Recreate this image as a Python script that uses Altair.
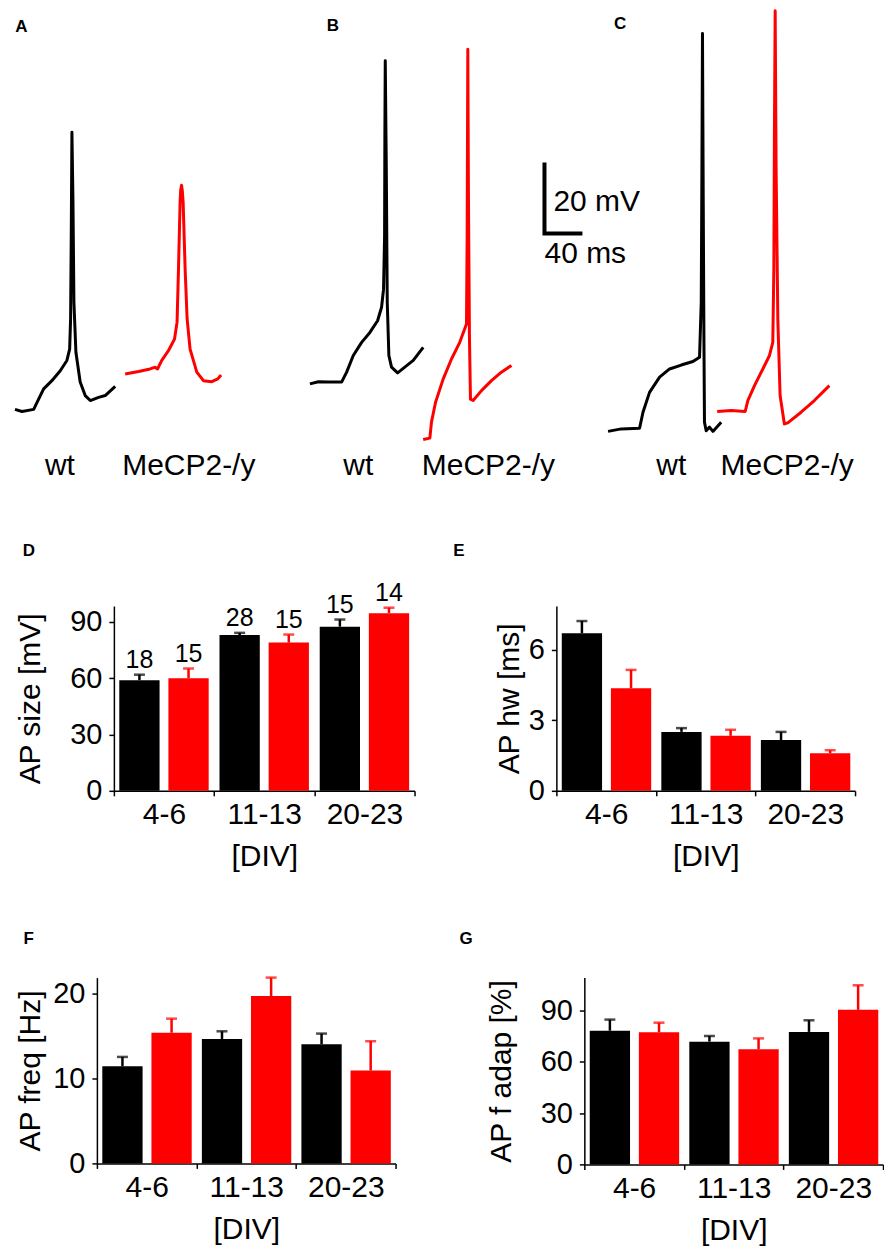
import altair as alt
import pandas as pd

FONT = "Liberation Sans"
BLACK = "#000000"
RED = "#ff0000"

# ---------------- voltage traces (time in ms, membrane potential in mV) ----------------
a_wt_t = [0, 7.4, 19.7, 24.9, 30.2, 38.9, 47.7, 54.7, 57.6, 58.6, 59.3, 60.0, 61.1, 62.1, 64.2, 68.7, 74.0, 79.3, 88.1, 95.1, 105.6]
a_wt_v = [-72.3, -72.9, -72.3, -69.4, -66.5, -64.2, -61.4, -58.5, -55.3, -46.8, -23.2, 5.8, -13.9, -42.1, -56.2, -64.6, -68.4, -69.8, -68.9, -68.4, -65.8]
a_ko_t = [116.1, 130.2, 142.4, 147.7, 150.2, 154.7, 161.8, 168.1, 170.8, 172.3, 174.0, 174.6, 175.5, 176.3, 177.2, 179.3, 181.4, 184.5, 191.6, 198.6, 207.4, 213.7, 217.2]
a_ko_v = [-62.3, -61.6, -60.9, -60.4, -60.9, -58.5, -55.7, -52.5, -47.7, -32.7, -13.9, -10.6, -9.1, -10.6, -13.9, -32.7, -46.8, -55.3, -61.8, -64.2, -64.5, -63.7, -62.6]
b_wt_t = [310.8, 319.7, 330.2, 344.2, 349.5, 356.5, 365.3, 374.0, 382.1, 386.3, 388.4, 389.5, 389.8, 390.2, 391.3, 392.3, 394.0, 396.8, 403.2, 410.8, 419.7, 430.2]
b_wt_v = [-65.1, -64.5, -64.6, -64.6, -61.8, -57.1, -53.4, -50.6, -47.3, -43.5, -38.4, -23.3, 4.8, 26.0, -4.6, -42.1, -57.1, -60.4, -62.0, -60.4, -58.5, -54.8]
b_ko_t = [430.2, 437.2, 438.9, 443.2, 451.3, 460.0, 468.7, 475.8, 476.5, 477.2, 477.9, 478.9, 480.0, 482.8, 491.6, 502.1, 512.6, 523.2]
b_ko_v = [-80.8, -80.4, -75.9, -70.3, -63.7, -58.1, -53.4, -48.2, -23.3, 29.2, -13.9, -51.5, -69.4, -69.8, -67.0, -64.2, -61.8, -59.9]
c_wt_t = [625.0, 638.9, 658.2, 661.8, 668.7, 679.3, 689.8, 702.1, 714.4, 721.4, 723.2, 723.9, 724.5, 725.3, 726.0, 726.6, 728.4, 731.9, 735.5, 744.2]
c_wt_v = [-78.5, -77.8, -77.6, -73.1, -67.5, -63.2, -60.9, -59.8, -58.8, -57.6, -42.1, -4.6, 33.7, -13.9, -51.5, -75.9, -78.3, -77.3, -78.5, -75.9]
c_ko_t = [740.0, 754.7, 769.5, 772.3, 779.3, 788.1, 795.1, 798.6, 799.7, 800.3, 801.1, 802.1, 803.9, 806.3, 810.8, 814.4, 828.4, 842.4, 858.2]
c_ko_v = [-72.9, -72.6, -72.9, -69.8, -65.6, -60.9, -57.1, -53.4, -32.7, 4.8, 40.1, -4.6, -46.8, -68.4, -76.4, -76.1, -73.1, -69.8, -65.6]

trace_labels = ["wt", "MeCP2-/y", "wt", "MeCP2-/y", "wt", "MeCP2-/y"]
trace_label_t = [47.4, 183.2, 361.8, 498.9, 691.6, 813.7]
trace_label_v = [-90.7] * 6

# scale bar: 20 mV x 40 ms
sbar_t = [558, 558, 598]
sbar_v = [-2.7, -22.7, -22.7]
sbar_text = ["20 mV", "40 ms"]
sbar_text_t = [567.4, 558.0]
sbar_text_v = [-16.3, -31.0]

# ---------------- bar charts ----------------
DIVS = ["4-6", "11-13", "20-23"]
GENOS = ["wt", "ko"]

size_wt = [59.0, 83.0, 87.5]
size_wt_sem = [2.9, 1.2, 3.8]
size_ko = [60.0, 79.0, 94.7]
size_ko_sem = [5.2, 4.3, 2.9]
n_wt = [18, 28, 15]
n_ko = [15, 15, 14]

hw_wt = [6.71, 2.51, 2.16]
hw_wt_sem = [0.52, 0.16, 0.35]
hw_ko = [4.37, 2.34, 1.60]
hw_ko_sem = [0.78, 0.26, 0.13]

freq_wt = [11.45, 14.67, 14.04]
freq_wt_sem = [1.10, 0.90, 1.26]
freq_ko = [15.40, 19.73, 10.94]
freq_ko_sem = [1.66, 2.17, 3.46]

adap_wt = [78.3, 71.9, 77.6]
adap_wt_sem = [6.5, 3.3, 6.8]
adap_ko = [77.4, 67.4, 90.5]
adap_ko_sem = [5.6, 6.4, 14.4]

COL = alt.Scale(domain=GENOS, range=[BLACK, RED])


def letter_layer(letter, lx, ly):
    return alt.Chart(pd.DataFrame({"s": [letter]})).mark_text(
        align="left", baseline="middle", fontSize=17, fontWeight="bold",
        color=BLACK, font=FONT
    ).encode(text="s:N", x=alt.value(lx), y=alt.value(ly))


def spacer():
    return alt.Chart(pd.DataFrame({"s": [""]})).mark_text(opacity=0, fontSize=1).encode(
        text="s:N", x=alt.value(0), y=alt.value(0)
    ).properties(width=1, height=1)


# ---------------- top row: traces ----------------
rows = []
for name, geno, ts, vs in [
    ("A_wt", "wt", a_wt_t, a_wt_v), ("A_ko", "ko", a_ko_t, a_ko_v),
    ("B_wt", "wt", b_wt_t, b_wt_v), ("B_ko", "ko", b_ko_t, b_ko_v),
    ("C_wt", "wt", c_wt_t, c_wt_v), ("C_ko", "ko", c_ko_t, c_ko_v),
]:
    for i, (t, v) in enumerate(zip(ts, vs)):
        rows.append({"trace": name, "geno": geno, "i": i, "t": t, "v": v})
tr = pd.DataFrame(rows)

XS = alt.Scale(domain=[0, 880], nice=False, zero=False)
YS = alt.Scale(domain=[-90, 40.1], nice=False, zero=False)

lines = alt.Chart(tr).mark_line(strokeWidth=3, strokeJoin="round").encode(
    x=alt.X("t:Q", scale=XS, axis=None),
    y=alt.Y("v:Q", scale=YS, axis=None),
    color=alt.Color("geno:N", scale=COL, legend=None),
    detail="trace:N",
    order="i:Q",
)

sb_df = pd.DataFrame({"t": sbar_t, "v": sbar_v, "i": list(range(len(sbar_t)))})
sbar = alt.Chart(sb_df).mark_line(strokeWidth=4, color=BLACK, strokeJoin="miter", strokeCap="butt").encode(
    x=alt.X("t:Q", scale=XS, axis=None),
    y=alt.Y("v:Q", scale=YS, axis=None),
    order="i:Q",
)

sbt_df = pd.DataFrame({"s": sbar_text, "t": sbar_text_t, "v": sbar_text_v})
sbtext = alt.Chart(sbt_df).mark_text(align="left", baseline="alphabetic", fontSize=30, font=FONT, color=BLACK).encode(
    x=alt.X("t:Q", scale=XS, axis=None),
    y=alt.Y("v:Q", scale=YS, axis=None),
    text="s:N",
)

lab_df = pd.DataFrame({"s": trace_labels, "t": trace_label_t, "v": trace_label_v})
labels = alt.Chart(lab_df).mark_text(align="center", baseline="alphabetic", fontSize=30, font=FONT, color=BLACK).encode(
    x=alt.X("t:Q", scale=XS, axis=None),
    y=alt.Y("v:Q", scale=YS, axis=None),
    text="s:N",
)

top = alt.layer(
    lines, sbar, sbtext, labels,
    letter_layer("A", 0.3, 16), letter_layer("B", 312, 15.3), letter_layer("C", 599.7, 13.7),
).properties(width=836, height=462)


# ---------------- bar panels ----------------
def panel(letter, lx, ly, wt_m, wt_s, ko_m, ko_s, ymax, yticks, ytitle, tx, w, h, counts=None):
    df = pd.DataFrame({
        "div": DIVS * 2,
        "geno": ["wt"] * 3 + ["ko"] * 3,
        "mean": wt_m + ko_m,
        "sem": wt_s + ko_s,
    })
    if counts is not None:
        df["n"] = [str(v) for v in counts[0] + counts[1]]
    base = alt.Chart(df).transform_calculate(top="datum.mean + datum.sem")
    x = alt.X("div:N", sort=DIVS, scale=alt.Scale(paddingInner=0, paddingOuter=0),
              axis=alt.Axis(title="[DIV]", tickBand="extent", labelAngle=0, labelFontSize=30,
                            labelPadding=4, titlePadding=12))
    xo = alt.XOffset("geno:N", sort=GENOS, scale=alt.Scale(paddingInner=0.18, paddingOuter=0.11))
    ysc = alt.Scale(domain=[0, ymax], nice=False, zero=True)
    y = alt.Y("mean:Q", scale=ysc,
              axis=alt.Axis(values=yticks, title=ytitle, titleX=tx, labelPadding=7))
    c = alt.Color("geno:N", scale=COL, legend=None)
    bars = base.mark_bar().encode(x=x, xOffset=xo, y=y, color=c)
    err = base.mark_rule(strokeWidth=2.5).encode(x=x, xOffset=xo, y=alt.Y("mean:Q", scale=ysc), y2="top:Q", color=c)
    cap = base.mark_tick(thickness=2.5, size=11).encode(x=x, xOffset=xo, y=alt.Y("top:Q", scale=ysc), color=c)
    layers = [bars, err, cap]
    if counts is not None:
        txt = base.mark_text(baseline="alphabetic", dy=-7, fontSize=25, font=FONT, color=BLACK).encode(
            x=x, xOffset=xo, y=alt.Y("top:Q", scale=ysc), text="n:N")
        layers.append(txt)
    layers.append(letter_layer(letter, lx, ly))
    return alt.layer(*layers).properties(width=w, height=h)


D = panel("D", -91.3, -55.3, size_wt, size_wt_sem, size_ko, size_ko_sem, 98.5, [0, 30, 60, 90],
          "AP size [mV]", -68, 301, 185, counts=(n_wt, n_ko))
E = panel("E", -103.3, -55.3, hw_wt, hw_wt_sem, hw_ko, hw_ko_sem, 7.87, [0, 3, 6],
          "AP hw [ms]", -32, 299, 185)
F = panel("F", -73.6, -39, freq_wt, freq_wt_sem, freq_ko, freq_ko_sem, 21.9, [0, 10, 20],
          "AP freq [Hz]", -51, 299, 186)
G = panel("G", -125, -39, adap_wt, adap_wt_sem, adap_ko, adap_ko_sem, 109.4, [0, 30, 60, 90],
          "AP f adap [%]", -67.5, 299, 187)

rowDE = alt.hconcat(spacer(), alt.hconcat(D, E, spacing=37), spacing=0)
rowFG = alt.hconcat(spacer(), alt.hconcat(F, G, spacing=63), spacing=0)
bottom = alt.vconcat(rowDE, rowFG, spacing=58)

chart = alt.vconcat(top, bottom, spacing=60).properties(
    padding={"left": 5, "top": 0, "right": 0, "bottom": 0}
).configure(font=FONT).configure_view(stroke=None).configure_axis(
    grid=False, domainColor=BLACK, tickColor=BLACK, labelColor=BLACK, titleColor=BLACK,
    domainWidth=1.5, tickWidth=1.5, tickSize=5, labelFont=FONT, titleFont=FONT,
    labelFontSize=29, titleFontSize=30, titleFontWeight="normal",
)

chart.save("out.html", embed_options={"renderer": "svg", "actions": False})
